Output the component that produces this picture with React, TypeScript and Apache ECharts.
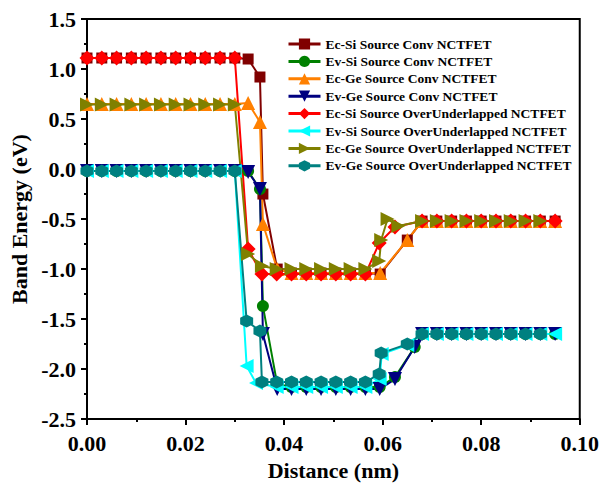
import React, { useEffect, useRef } from "react";
import * as echarts from "echarts";

// ---- x positions (nm) ----
const xSource = [0, 0.003, 0.006, 0.009, 0.012, 0.015, 0.018, 0.021, 0.024, 0.027, 0.03];
const xChannel = [0.0415, 0.0445, 0.0475, 0.0505, 0.0535, 0.0565];
const xDrain = [0.068, 0.071, 0.074, 0.077, 0.08, 0.083, 0.086, 0.089, 0.092, 0.095];
const xDrainGe = [0.068, 0.071, 0.074, 0.077, 0.08, 0.083, 0.086, 0.089, 0.092];

const convEcX = [...xSource, 0.0327, 0.0351, 0.0357, 0.0386, ...xChannel, 0.0595, 0.065, ...xDrain];
const convEvX = [...xSource, 0.0327, 0.0351, 0.0357, 0.0386, ...xChannel, 0.0594, 0.0625, 0.0665, ...xDrain];
const ouEcSiX = [...xSource, 0.0327, 0.0355, 0.0385, ...xChannel, 0.0593, 0.0625, ...xDrain];
const ouEvSiX = [...xSource, 0.0324, 0.0343, 0.0385, ...xChannel, 0.0594, 0.0598, 0.065, ...xDrain];
const ouEcGeX = [...xSource, 0.0327, 0.0355, 0.0385, ...xChannel, 0.0593, 0.0597, 0.061, 0.0632, ...xDrainGe];
const ouEvGeX = [...xSource, 0.0324, 0.0351, 0.0355, 0.0385, ...xChannel, 0.0593, 0.0597, 0.065, ...xDrainGe];

// ---- band energies (eV) ----
const ecSiConvY = [1.11, 1.11, 1.11, 1.11, 1.11, 1.11, 1.11, 1.11, 1.11, 1.11, 1.11, 1.1, 0.92, -0.25, -1.0, -1.04, -1.04, -1.04, -1.04, -1.04, -1.04, -1.05, -0.71, -0.52, -0.52, -0.52, -0.52, -0.52, -0.52, -0.52, -0.52, -0.52, -0.52];
const ecGeConvY = [0.65, 0.65, 0.65, 0.65, 0.65, 0.65, 0.65, 0.65, 0.65, 0.65, 0.65, 0.66, 0.47, -0.55, -1.0, -1.04, -1.04, -1.04, -1.04, -1.04, -1.04, -1.04, -0.71, -0.52, -0.52, -0.52, -0.52, -0.52, -0.52, -0.52, -0.52, -0.52, -0.52];
const evSiConvY = [-0.02, -0.02, -0.02, -0.02, -0.02, -0.02, -0.02, -0.02, -0.02, -0.02, -0.02, -0.02, -0.2, -1.37, -2.15, -2.18, -2.18, -2.18, -2.18, -2.18, -2.18, -2.18, -2.08, -1.78, -1.65, -1.65, -1.65, -1.65, -1.65, -1.65, -1.65, -1.65, -1.65, -1.65];
const evGeConvY = [-0.02, -0.02, -0.02, -0.02, -0.02, -0.02, -0.02, -0.02, -0.02, -0.02, -0.02, -0.03, -0.2, -1.65, -2.2, -2.2, -2.2, -2.2, -2.2, -2.2, -2.2, -2.2, -2.1, -1.78, -1.65, -1.65, -1.65, -1.65, -1.65, -1.65, -1.65, -1.65, -1.65, -1.65];
const ecSiOuY = [1.11, 1.11, 1.11, 1.11, 1.11, 1.11, 1.11, 1.11, 1.11, 1.11, 1.11, -0.8, -1.05, -1.05, -1.05, -1.05, -1.05, -1.05, -1.05, -1.05, -0.74, -0.58, -0.52, -0.52, -0.52, -0.52, -0.52, -0.52, -0.52, -0.52, -0.52, -0.52];
const evSiOuY = [-0.02, -0.02, -0.02, -0.02, -0.02, -0.02, -0.02, -0.02, -0.02, -0.02, -0.02, -1.97, -2.14, -2.18, -2.18, -2.18, -2.18, -2.18, -2.18, -2.18, -2.1, -1.85, -1.76, -1.65, -1.65, -1.65, -1.65, -1.65, -1.65, -1.65, -1.65, -1.65, -1.65];
const ecGeOuY = [0.645, 0.645, 0.645, 0.645, 0.645, 0.645, 0.645, 0.645, 0.645, 0.645, 0.645, -0.85, -0.97, -1.0, -1.0, -1.0, -1.0, -1.0, -1.0, -1.0, -0.92, -0.71, -0.5, -0.57, -0.52, -0.52, -0.52, -0.52, -0.52, -0.52, -0.52, -0.52, -0.52];
const evGeOuY = [-0.02, -0.02, -0.02, -0.02, -0.02, -0.02, -0.02, -0.02, -0.02, -0.02, -0.02, -1.52, -1.62, -2.13, -2.13, -2.13, -2.13, -2.13, -2.13, -2.13, -2.13, -2.05, -1.84, -1.75, -1.65, -1.65, -1.65, -1.65, -1.65, -1.65, -1.65, -1.65, -1.65];

const seriesNames = [
  "Ec-Si Source Conv NCTFET",
  "Ev-Si Source Conv NCTFET",
  "Ec-Ge Source Conv NCTFET",
  "Ev-Ge Source Conv NCTFET",
  "Ec-Si Source OverUnderlapped NCTFET",
  "Ev-Si Source OverUnderlapped NCTFET",
  "Ec-Ge Source OverUnderlapped NCTFET",
  "Ev-Ge Source OverUnderlapped NCTFET",
];

const HEX = "path://M0,-10 L8.66,-5 L8.66,5 L0,10 L-8.66,5 L-8.66,-5 Z";
const FONT = "'Liberation Serif', 'Times New Roman', serif";

function zip(xs: number[], ys: number[]) {
  return xs.map((x, i) => [x, ys[i]]);
}

export default function App() {
  const ref = useRef<HTMLDivElement>(null);
  useEffect(() => {
    if (!ref.current) return;
    const chart = echarts.init(ref.current, null, { renderer: "svg" });
    const defs = [
      { x: convEcX, y: ecSiConvY, color: "#800000", symbol: "rect", size: 11, rot: 0 },
      { x: convEvX, y: evSiConvY, color: "#008000", symbol: "circle", size: 12, rot: 0 },
      { x: convEcX, y: ecGeConvY, color: "#FF8000", symbol: "triangle", size: 14, rot: 0 },
      { x: convEvX, y: evGeConvY, color: "#000080", symbol: "triangle", size: 14, rot: 180 },
      { x: ouEcSiX, y: ecSiOuY, color: "#FF0000", symbol: "diamond", size: 15, rot: 0 },
      { x: ouEvSiX, y: evSiOuY, color: "#00FFFF", symbol: "triangle", size: 14, rot: 90 },
      { x: ouEcGeX, y: ecGeOuY, color: "#808000", symbol: "triangle", size: 14, rot: -90 },
      { x: ouEvGeX, y: evGeOuY, color: "#008080", symbol: HEX, size: 13, rot: 0 },
    ];
    const axisText = { fontFamily: FONT, fontWeight: "bold" as const, fontSize: 22, color: "#000" };
    chart.setOption({
      animation: false,
      backgroundColor: "#fff",
      grid: {
        left: 81,
        right: 20,
        top: 19,
        bottom: 64,
        show: true,
        borderColor: "#000",
        borderWidth: 2,
        backgroundColor: "transparent",
      },
      legend: {
        orient: "vertical",
        left: 282,
        top: 32,
        itemWidth: 32,
        itemHeight: 14,
        itemGap: 3.4,
        lineStyle: { width: 3 },
        textStyle: { fontFamily: FONT, fontWeight: "bold", fontSize: 13.5, color: "#000" },
        data: seriesNames,
      },
      xAxis: {
        type: "value",
        min: 0,
        max: 0.1,
        interval: 0.02,
        name: "Distance (nm)",
        nameLocation: "middle",
        nameGap: 37,
        nameTextStyle: axisText,
        axisLine: { onZero: false, lineStyle: { color: "#000", width: 2 } },
        axisTick: { length: 6, lineStyle: { color: "#000", width: 2 } },
        minorTick: { show: true, splitNumber: 2, length: 3, lineStyle: { color: "#000", width: 2 } },
        splitLine: { show: false },
        axisLabel: { ...axisText, margin: 13, formatter: (v: number) => v.toFixed(2) },
      },
      yAxis: {
        type: "value",
        min: -2.5,
        max: 1.5,
        interval: 0.5,
        name: "Band Energy (eV)",
        nameLocation: "middle",
        nameGap: 57,
        nameTextStyle: axisText,
        axisLine: { onZero: false, lineStyle: { color: "#000", width: 2 } },
        axisTick: { length: 6, lineStyle: { color: "#000", width: 2 } },
        minorTick: { show: true, splitNumber: 2, length: 3, lineStyle: { color: "#000", width: 2 } },
        splitLine: { show: false },
        axisLabel: { ...axisText, margin: 11, formatter: (v: number) => v.toFixed(1) },
      },
      series: defs.map((d, i) => ({
        name: seriesNames[i],
        type: "line",
        data: zip(d.x, d.y),
        symbol: d.symbol,
        symbolSize: d.size,
        symbolRotate: d.rot,
        showAllSymbol: true,
        color: d.color,
        lineStyle: { color: d.color, width: 2 },
        itemStyle: { color: d.color, borderWidth: 0 },
      })),
    });
    return () => chart.dispose();
  }, []);
  return (
    <div
      ref={ref}
      style={{ position: "fixed", left: 0, top: 0, width: 602, height: 486, background: "#fff" }}
    />
  );
}
